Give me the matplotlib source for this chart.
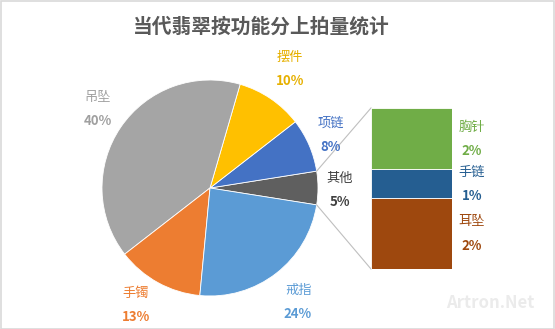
import matplotlib
matplotlib.use("Agg")
import matplotlib.pyplot as plt
from matplotlib.patches import Rectangle
import math

plt.rcParams['font.family'] = ['Noto Sans CJK SC', 'DejaVu Sans']

title = "当代翡翠按功能分上拍量统计"
pie_labels = ["其他", "项链", "摆件", "吊坠", "手镯", "戒指"]
pie_values = [5, 8, 10, 40, 13, 24]
pie_colors = ["#5F5F5F", "#4472C4", "#FFC000", "#A5A5A5", "#ED7D31", "#5B9BD5"]
label_colors = ["#404040", "#4472C4", "#E6B000", "#A0A0A0", "#ED7D31", "#5B9BD5"]

bar_labels = ["耳坠", "手链", "胸针"]
bar_values = [2.2, 0.9, 1.9]
bar_colors = ["#9E480E", "#255E91", "#70AD47"]

W, H = 555, 329
fig = plt.figure(figsize=(W / 100, H / 100), dpi=100)
ax = fig.add_axes([0, 0, 1, 1])

cx, cy, r = 210, 141, 108
start = -pie_values[0] / 100 * 360 / 2
ax.pie(pie_values, colors=pie_colors, center=(cx, cy), radius=r,
       startangle=start, counterclock=True,
       wedgeprops=dict(edgecolor='white', linewidth=0.6), frame=True)
ax.set_xlim(0, W)
ax.set_ylim(0, H)
ax.axis('off')

pie_label_pos = {"其他": (340, 178), "项链": (331, 123), "摆件": (290, 57),
                 "吊坠": (98, 97), "手镯": (136, 293), "戒指": (298, 290)}
for lab, v, c in zip(pie_labels, pie_values, label_colors):
    x, y = pie_label_pos[lab]
    ax.text(x, H - y, lab, color=c, fontsize=9.5, ha='center', va='center',
            fontweight='medium')
    ax.text(x, H - y - 24, f"{v}%", color=c, fontsize=9.5, ha='center',
            va='center', fontweight='bold')

bx0, bx1, by0, by1 = 371, 452, 60, 221
bax = fig.add_axes([bx0 / W, by0 / H, (bx1 - bx0) / W, (by1 - by0) / H])
bottom = 0
for lab, v, c in zip(bar_labels, bar_values, bar_colors):
    bax.bar(0, v, bottom=bottom, color=c, width=1.0, edgecolor='white', linewidth=0.6)
    bottom += v
bax.set_xlim(-0.5, 0.5)
bax.set_ylim(0, sum(bar_values))
bax.axis('off')

bar_label_pos = {"胸针": (472, 127), "手链": (472, 172), "耳坠": (472, 222)}
for lab, v, c in zip(bar_labels, bar_values, bar_colors):
    x, y = bar_label_pos[lab]
    ax.text(x, H - y, lab, color=c, fontsize=9.5, ha='center', va='center',
            fontweight='medium')
    ax.text(x, H - y - 24, f"{v:.0f}%", color=c, fontsize=9.5, ha='center',
            va='center', fontweight='bold')

a = math.radians(pie_values[0] / 100 * 360 / 2)
px = cx + r * math.cos(a)
ax.plot([px, bx0], [cy + r * math.sin(a), by1], color='#BFBFBF', lw=0.8)
ax.plot([px, bx0], [cy - r * math.sin(a), by0], color='#BFBFBF', lw=0.8)

ax.text(261, H - 27, title, fontsize=14.2, fontweight='bold', color='#595959',
        ha='center', va='center')

ax.text(490, H - 303, "Artron.Net", fontsize=12, color='#EBEBEB', ha='center',
        va='center', fontweight='bold')

fig.patches.append(Rectangle((0.5 / W, 0.5 / H), 1 - 1.5 / W, 1 - 1.5 / H,
                             transform=fig.transFigure, fill=False,
                             edgecolor='#D9D9D9', linewidth=1.2))

fig.savefig("out.png", dpi=100, facecolor='white')
